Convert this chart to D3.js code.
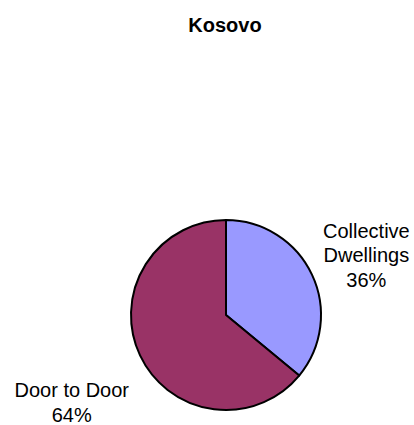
<!DOCTYPE html>
<html><head><meta charset="utf-8">
<script src="https://cdn.jsdelivr.net/npm/d3@7"></script>
<style>body{margin:0;background:#fff}svg{display:block}</style>
</head><body>
<svg id="c" width="414" height="425"></svg>
<script>
const title = "Kosovo";
const categories = ["Collective Dwellings", "Door to Door"];
const values = [36, 64];
const labelLines = [["Collective", "Dwellings", "36%"], ["Door to Door", "64%"]];
const colors = ["#9999FF", "#993366"];

const svg = d3.select("#c");
const W = 414, H = 425;
const font = "Liberation Sans, Arial, Helvetica, sans-serif";
svg.append("rect").attr("width", W).attr("height", H).attr("fill", "#fff");
svg.append("text").attr("x", 225).attr("y", 32).attr("text-anchor", "middle")
  .attr("font-family", font).attr("font-weight", "bold")
  .attr("font-size", 20).attr("fill", "#000").text(title);

const cx = 226, cy = 315, r = 95;
const pie = d3.pie().sort(null).value(d => d)(values);
const arc = d3.arc().innerRadius(0).outerRadius(r);
const g = svg.append("g").attr("transform", `translate(${cx},${cy})`);
g.selectAll("path").data(pie).join("path")
  .attr("d", arc).attr("fill", (d, i) => colors[i])
  .attr("stroke", "#000").attr("stroke-width", 2).attr("stroke-linejoin", "round");

const lh = 24.5;
pie.forEach((d, i) => {
  const a = (d.startAngle + d.endAngle) / 2;
  const ux = Math.sin(a), uy = -Math.cos(a);
  const lines = labelLines[i];
  const t = g.append("text").attr("text-anchor", "middle")
    .attr("font-family", font).attr("font-size", 20).attr("fill", "#000");
  const tsp = lines.map(s => t.append("tspan").text(s));
  const w = d3.max(tsp, s => s.node().getComputedTextLength());
  const x = Math.sign(ux) * (r + 2 + w / 2);
  const y0 = Math.sign(uy) * 0.84 * r + 2.5;
  tsp.forEach((s, k) => s.attr("x", x).attr("y", y0 + k * lh));
});
</script>
</body></html>
